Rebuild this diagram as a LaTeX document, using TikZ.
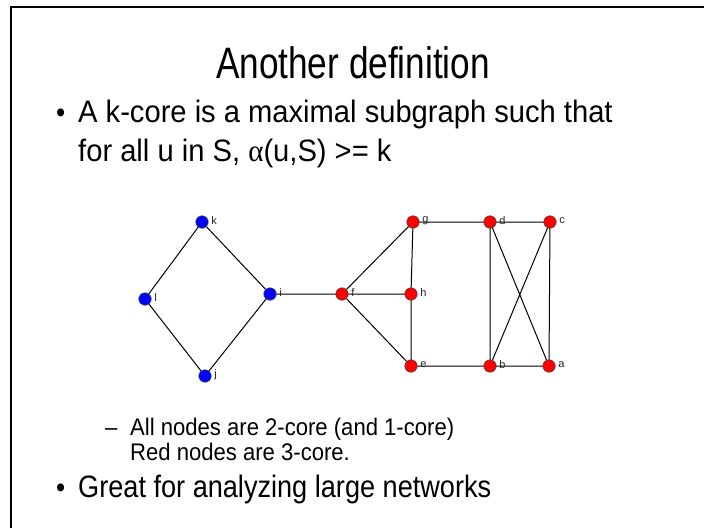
\documentclass[tikz,border=0pt]{standalone}
\usepackage{fontspec}
\usepackage{graphicx}
\setmainfont{Liberation Sans}
\newfontfamily\symfont{Liberation Serif}
\begin{document}
\begin{tikzpicture}[x=1pt,y=-1pt,
  vtx/.style={circle,draw=black!70,line width=0.6pt,inner sep=0pt,minimum size=12.5pt},
  rednode/.style={vtx,fill=red},
  bluenode/.style={vtx,fill=blue},
  lbl/.style={font=\fontsize{11}{13}\selectfont,text=black!85,inner sep=0pt,anchor=west},
  edge/.style={draw=black,line width=1pt},
  txt/.style={inner sep=0pt,anchor=base west},
  frame/.style={draw=black,line width=2pt}]
\useasboundingbox (0,0) rectangle (704,528);
\draw[frame] (11,528) -- (11,7) -- (705,7);
\node[txt,anchor=base] (title) at (353,78) {\scalebox{0.8}[1]{\fontsize{44}{50}\selectfont Another definition}};
\node[txt] (b1) at (56,122) {\fontsize{29}{34}\selectfont\scalebox{0.9}[1]{•}};
\node[txt] (l1) at (78,122) {\scalebox{0.94}[1]{\fontsize{31}{36}\selectfont A k-core is a maximal subgraph such that}};
\node[txt] (l2) at (78,161) {\scalebox{0.94}[1]{\fontsize{31}{36}\selectfont for all u in S, {\symfont α}(u,S) >= k}};
\node[txt] (d1) at (105,435) {\scalebox{0.92}[1]{\fontsize{24}{28}\selectfont –}};
\node[txt] (s1) at (130,435) {\scalebox{0.92}[1]{\fontsize{24}{28}\selectfont All nodes are 2-core (and 1-core)}};
\node[txt] (s2) at (130,460) {\scalebox{0.92}[1]{\fontsize{24}{28}\selectfont Red nodes are 3-core.}};
\node[txt] (b2) at (56,497) {\fontsize{29}{34}\selectfont\scalebox{0.9}[1]{•}};
\node[txt] (l3) at (78,497) {\scalebox{0.875}[1]{\fontsize{31}{36}\selectfont Great for analyzing large networks}};
% graph
\coordinate (pk) at (202,222);
\coordinate (pl) at (145,299);
\coordinate (pj) at (205,376);
\coordinate (pi) at (270,294);
\coordinate (pf) at (342,294);
\coordinate (pg) at (413,222);
\coordinate (ph) at (411,294);
\coordinate (pe) at (411,366);
\coordinate (pd) at (490,222);
\coordinate (pc) at (550,222);
\coordinate (pb) at (490,366);
\coordinate (pa) at (549,366);
\draw[edge] (pk) -- (pl) (pk) -- (pi) (pl) -- (pj) (pj) -- (pi) (pi) -- (pf)
  (pf) -- (pg) (pf) -- (ph) (pf) -- (pe) (pg) -- (ph) (ph) -- (pe)
  (pg) -- (pd) (pd) -- (pc) (pe) -- (pb) (pb) -- (pa)
  (pd) -- (pb) (pd) -- (pa) (pc) -- (pb) (pc) -- (pa);
\foreach \n in {k,l,j,i}{\node[bluenode] (\n) at (p\n) {};}
\foreach \n in {f,g,h,e,d,c,b,a}{\node[rednode] (\n) at (p\n) {};}
\foreach \n in {k,l,j,i,f,g,h,e,d,c,b,a}{\node[lbl] (t\n) at ([xshift=2.5pt,yshift=1pt]\n.east) {\n};}
\end{tikzpicture}
\end{document}
